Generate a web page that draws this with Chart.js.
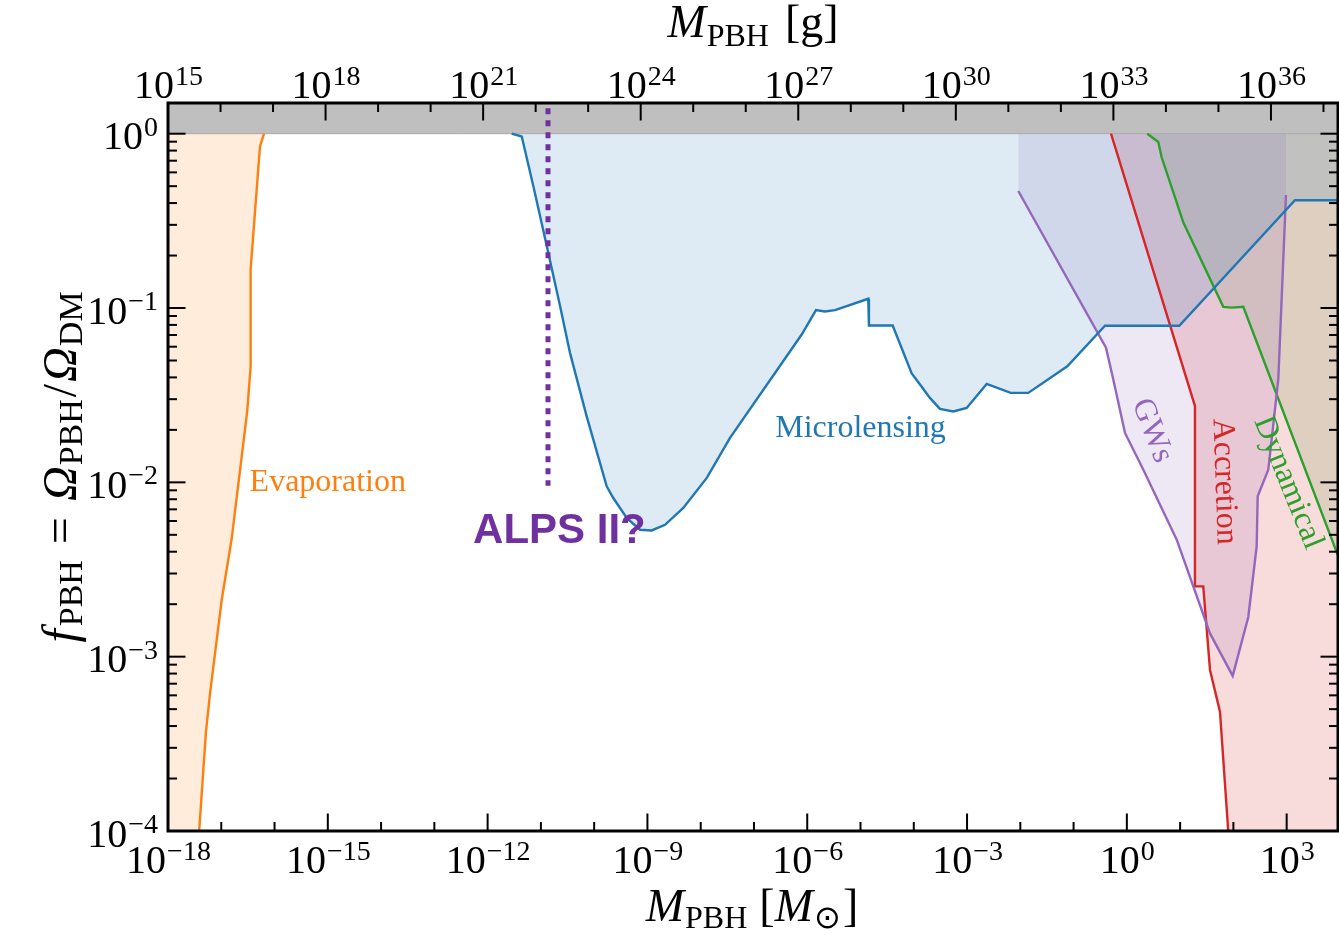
<!DOCTYPE html>
<html><head><meta charset="utf-8">
<script src="https://cdn.jsdelivr.net/npm/chart.js@4.4.0/dist/chart.umd.min.js"></script>
<style>html,body{margin:0;padding:0;background:#fff;}canvas{display:block;}</style>
</head><body>
<canvas id="c" width="1339" height="935"></canvas>
<script>
// ---------------- data (M in solar masses, f = f_PBH) ----------------
const evapM = [1e-18, 3.55e-18, 3.87e-18, 5.16e-18, 6.14e-18, 1.02e-17, 1.57e-17, 3.08e-17, 3.56e-17, 3.56e-17, 5.33e-17, 6.34e-17];
const evapF = [1e-6, 5e-5, 1.03e-4, 3.70e-4, 6.11e-4, 2.12e-3, 4.76e-3, 0.0258, 0.0465, 0.167, 0.845, 1.0];

const lensM = [2.83e-12, 4.37e-12, 7.21e-12, 1.29e-11, 2.29e-11, 3.52e-11, 7.24e-11, 1.72e-10, 2.29e-10, 4.08e-10, 7.26e-10, 1.20e-9, 2.14e-9, 4.71e-9, 1.30e-8, 3.55e-8, 7.87e-7, 1.46e-6, 2.15e-6, 3.32e-6, 1.40e-5, 1.44e-5, 4.02e-5, 9.14e-5, 1.31e-4, 2.01e-4, 3.10e-4, 5.52e-4, 9.84e-4, 2.34e-3, 6.59e-3, 0.0141, 0.0762, 0.389, 9.64, 1432, 9200];
const lensF = [1.0, 0.964, 0.501, 0.227, 0.1026, 0.0553, 0.0239, 0.00948, 0.00813, 0.00625, 0.00535, 0.00530, 0.00571, 0.00713, 0.0106, 0.0180, 0.0705, 0.0973, 0.0955, 0.0973, 0.113, 0.0794, 0.0794, 0.0421, 0.0364, 0.0305, 0.0264, 0.0255, 0.0267, 0.0367, 0.0326, 0.0326, 0.0463, 0.0791, 0.0791, 0.415, 0.415];

const gwM = [9.16e-3, 0.406, 0.557, 0.923, 2.04, 8.63, 36.4, 97.1, 190.5, 273.5, 285.8, 451.9, 696.6, 970.5];
const gwF = [0.469, 0.0592, 0.0389, 0.0192, 0.0118, 0.00469, 0.00136, 7.76e-4, 1.69e-3, 4.29e-3, 8.32e-3, 0.0118, 0.0389, 0.445];

const accM = [0.504, 19.0, 19.0, 27.2, 36.4, 56.0, 80.2, 85.1, 9200];
const accF = [1.0, 0.0274, 2.53e-3, 2.53e-3, 8.39e-4, 4.84e-4, 9.9e-5, 4e-5, 1e-6];

const dynM = [2.42, 3.89, 4.51, 8.02, 11.5, 64.6, 92.9, 153.5, 9200];
const dynF = [1.0, 0.897, 0.730, 0.431, 0.309, 0.1016, 0.1005, 0.1016, 0.0038];

const bandM = [1e-18, 9200];
const bandF = [1.0, 1.0];

const alpsM = [1.36e-11, 1.36e-11];
const alpsF = [1.40, 0.00957];

// tick labels (exponents of 10)
const xTickExps = [-18, -15, -12, -9, -6, -3, 0, 3];
const topTickExps = [15, 18, 21, 24, 27, 30, 33, 36];
const yTickExps = [0, -1, -2, -3, -4];

const xMin = 1e-18, xMax = 9200, gMin = 1e15, gMax = 1.89e37, yMin = 1e-4, yMax = 1.5;

// ---------------- styling ----------------
const SERIF = '"Liberation Serif","Times New Roman",serif';
const fnt = (size, style) => (style ? style + ' ' : '') + size + 'px ' + SERIF;
const C = {orange:'#ff7f0e', blue:'#1f77b4', purple:'#9467bd', red:'#d62728', green:'#2ca02c', alps:'#7030a0'};
const rgba = (hex, a) => { const n = parseInt(hex.slice(1),16); return `rgba(${n>>16},${(n>>8)&255},${n&255},${a})`; };
const pts = (xs, ys) => xs.map((x, i) => ({x, y: ys[i]}));

function area(label, xs, ys, color, alpha) {
  return {label, data: pts(xs, ys), showLine: true, pointRadius: 0, borderColor: color, borderWidth: 2.4,
    backgroundColor: rgba(color, alpha), fill: {value: 1}, tension: 0, clip: 0};
}

function drawPow(ctx, exp, x, baseY, align) {
  const base = '10', sup = String(exp).replace('-', '\u2212');
  ctx.font = fnt(40); const wb = ctx.measureText(base).width;
  ctx.font = fnt(28); const ws = ctx.measureText(sup).width;
  const w = wb + ws;
  const x0 = align === 'right' ? x - w : x - w / 2;
  ctx.textAlign = 'left'; ctx.textBaseline = 'alphabetic'; ctx.fillStyle = '#000';
  ctx.font = fnt(40); ctx.fillText(base, x0, baseY);
  ctx.font = fnt(28); ctx.fillText(sup, x0 + wb + 1, baseY - 13.5);
}
function richWidth(ctx, segs) { let w = 0; for (const s of segs) { ctx.font = s.f; w += (s.gap || 0) + ctx.measureText(s.t).width; } return w; }
function drawRich(ctx, segs, x, y) {
  let cx = x;
  for (const s of segs) { cx += s.gap || 0; ctx.font = s.f; ctx.fillText(s.t, cx, y + (s.dy || 0)); cx += ctx.measureText(s.t).width; }
}

const axesPlugin = {
  id: 'axesPlugin',
  afterDraw(chart) {
    const {ctx, chartArea: a} = chart;
    const {x, x2, y} = chart.scales;
    ctx.save();
    ctx.strokeStyle = '#000'; ctx.lineWidth = 2;
    const seg = (x1, y1, x3, y3) => { ctx.beginPath(); ctx.moveTo(x1, y1); ctx.lineTo(x3, y3); ctx.stroke(); };
    const MAJ = 17.5, MIN = 9;
    for (let e = -18; e <= 4; e++) {
      const v = Math.pow(10, e); if (v > xMax * 1.0001) continue;
      const px = x.getPixelForValue(v); const L = ((e + 18) % 3 === 0) ? MAJ : MIN;
      seg(px, a.bottom, px, a.bottom - L);
    }
    for (let e = 15; e <= 37; e++) {
      const v = Math.pow(10, e); if (v > gMax * 1.0001) continue;
      const px = x2.getPixelForValue(v); const L = ((e - 15) % 3 === 0) ? MAJ : MIN;
      seg(px, a.top, px, a.top + L);
    }
    for (let e = -4; e <= 0; e++) {
      for (let k = 1; k <= 9; k++) {
        const v = k * Math.pow(10, e); if (v > yMax) continue;
        const py = y.getPixelForValue(v); const L = k === 1 ? MAJ : MIN;
        seg(a.left, py, a.left + L, py); seg(a.right, py, a.right - L, py);
      }
    }
    ctx.lineWidth = 3;
    ctx.strokeRect(a.left, a.top, a.right - a.left, a.bottom - a.top);

    // tick labels
    for (const e of xTickExps) drawPow(ctx, e, x.getPixelForValue(Math.pow(10, e)), a.bottom + 42, 'center');
    for (const e of topTickExps) drawPow(ctx, e, x2.getPixelForValue(Math.pow(10, e)), a.top - 5, 'center');
    for (const e of yTickExps) drawPow(ctx, e, a.left - 11, y.getPixelForValue(Math.pow(10, e)) + 15.5, 'right');

    // axis titles
    ctx.fillStyle = '#000'; ctx.textAlign = 'left'; ctx.textBaseline = 'alphabetic';
    const big = fnt(46), bigI = fnt(46, 'italic'), sub = fnt(32);
    const bottomT = [{t:'M', f:bigI}, {t:'PBH', f:sub, dy:7, gap:1}, {t:'[', f:big, gap:12}, {t:'M', f:bigI}, {t:'\u2299', f:sub, dy:7, gap:1}, {t:']', f:big, gap:2}];
    let w = richWidth(ctx, bottomT);
    drawRich(ctx, bottomT, (a.left + a.right) / 2 - w / 2 - 1, 921);
    const topT = [{t:'M', f:bigI}, {t:'PBH', f:sub, dy:9, gap:1}, {t:'[g]', f:big, gap:16}];
    w = richWidth(ctx, topT);
    drawRich(ctx, topT, 753 - w / 2, 37);
    const yT = [{t:'f', f:fnt(48,'italic')}, {t:'PBH', f:fnt(34), dy:6, gap:3}, {t:'=', f:fnt(48), gap:16}, {t:'\u03A9', f:fnt(48,'italic'), gap:16},
      {t:'PBH', f:fnt(34), dy:6, gap:1}, {t:'/', f:fnt(48), gap:2}, {t:'\u03A9', f:fnt(48,'italic'), gap:2}, {t:'DM', f:fnt(34), dy:6, gap:1}];
    w = richWidth(ctx, yT);
    ctx.save(); ctx.translate(76, 467); ctx.rotate(-Math.PI / 2); drawRich(ctx, yT, -w / 2, 0); ctx.restore();

    // region labels
    const lab = (t, mx, fy, color, rot, f, base) => {
      ctx.save(); ctx.translate(x.getPixelForValue(mx), y.getPixelForValue(fy)); ctx.rotate(rot * Math.PI / 180);
      ctx.fillStyle = color; ctx.font = f; ctx.textAlign = 'center'; ctx.textBaseline = base || 'middle';
      ctx.fillText(t, 0, 0); ctx.restore();
    };
    lab('Evaporation', 1e-15, 8.96e-3, C.orange, 0, fnt(32), 'alphabetic');
    lab('Microlensing', 1e-5, 0.0181, C.blue, 0, fnt(32), 'alphabetic');
    lab('GWs', 2.97, 0.0198, C.purple, 68.7, fnt(32));
    lab('Accretion', 66.7, 0.0101, C.red, 88, fnt(32));
    lab('Dynamical', 1059, 0.00996, C.green, 68, fnt(32));
    lab('ALPS II?', 2.23e-11, 0.00451, C.alps, 0, 'bold 42px "Liberation Sans", Arial, sans-serif', 'alphabetic');
    ctx.restore();
  }
};

new Chart(document.getElementById('c'), {
  type: 'scatter',
  data: {datasets: [
    {label: 'ALPS II', data: pts(alpsM, alpsF), showLine: true, pointRadius: 0, borderColor: C.alps, borderWidth: 5, borderDash: [6, 6], borderCapStyle: 'butt', fill: false, clip: 0},
    area('Evaporation', evapM, evapF, C.orange, 0.15),
    area('Microlensing', lensM, lensF, C.blue, 0.15),
    area('GWs', gwM, gwF, C.purple, 0.16),
    area('Accretion', accM, accF, C.red, 0.17),
    area('Dynamical', dynM, dynF, C.green, 0.15),
    {label: 'band', data: pts(bandM, bandF), showLine: true, pointRadius: 0, borderColor: '#a9a9a9', borderWidth: 1, backgroundColor: '#bfbfbf', fill: {value: 2}, clip: 0}
  ]},
  options: {
    responsive: false, animation: false, events: [],
    layout: {padding: {left: 168, right: 1, top: 103, bottom: 104}},
    plugins: {legend: {display: false}, tooltip: {enabled: false}, filler: {drawTime: 'beforeDatasetsDraw'}},
    scales: {
      x: {type: 'logarithmic', min: xMin, max: xMax, display: false},
      x2: {type: 'logarithmic', axis: 'x', position: 'top', min: gMin, max: gMax, display: false},
      y: {type: 'logarithmic', min: yMin, max: yMax, display: false}
    }
  },
  plugins: [axesPlugin]
});
</script>
</body></html>
